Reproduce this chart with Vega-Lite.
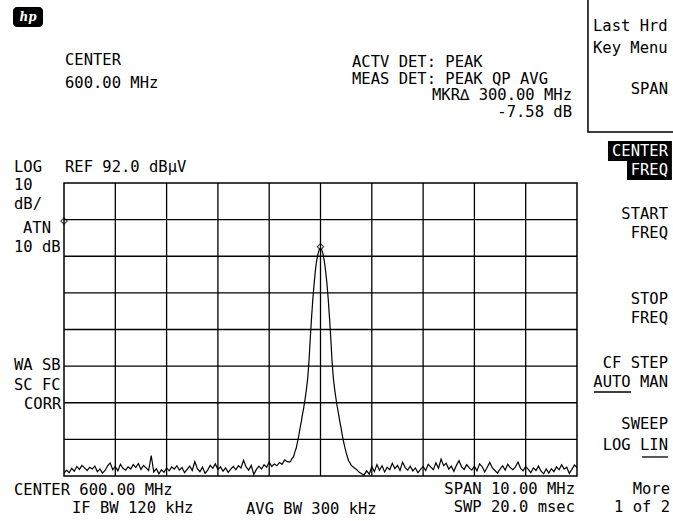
{
"$schema": "https://vega.github.io/schema/vega-lite/v6.json",
"width": 513,
"height": 293,
"autosize": {"type": "none"},
"padding": {"left": 64, "top": 183, "right": 96, "bottom": 45},
"background": "white",
"config": {"view": {"stroke": "#000", "strokeWidth": 1.5}, "font": "DejaVu Sans Mono"},
"datasets": {
"trace": [
{"f":595.00,"dbuv":12.8},{"f":595.05,"dbuv":13.6},{"f":595.10,"dbuv":12.9},{"f":595.15,"dbuv":14.1},{"f":595.20,"dbuv":13.3},{"f":595.25,"dbuv":14.6},{"f":595.30,"dbuv":13.8},{"f":595.35,"dbuv":14.9},{"f":595.40,"dbuv":14.2},{"f":595.45,"dbuv":13.5},
{"f":595.50,"dbuv":14.4},{"f":595.55,"dbuv":13.9},{"f":595.60,"dbuv":14.7},{"f":595.65,"dbuv":13.2},{"f":595.70,"dbuv":13.9},{"f":595.75,"dbuv":12.8},{"f":595.80,"dbuv":13.5},{"f":595.85,"dbuv":14.8},{"f":595.90,"dbuv":15.6},{"f":595.95,"dbuv":13.7},
{"f":596.00,"dbuv":14.6},{"f":596.05,"dbuv":13.4},{"f":596.10,"dbuv":15.2},{"f":596.15,"dbuv":14.1},{"f":596.20,"dbuv":13.6},{"f":596.25,"dbuv":14.5},{"f":596.30,"dbuv":13.9},{"f":596.35,"dbuv":15.1},{"f":596.40,"dbuv":14.3},{"f":596.45,"dbuv":15.4},
{"f":596.50,"dbuv":13.8},{"f":596.55,"dbuv":14.9},{"f":596.60,"dbuv":14.2},{"f":596.65,"dbuv":13.5},{"f":596.70,"dbuv":17.6},{"f":596.75,"dbuv":13.1},{"f":596.80,"dbuv":14.0},{"f":596.85,"dbuv":12.6},{"f":596.90,"dbuv":13.7},{"f":596.95,"dbuv":13.0},
{"f":597.00,"dbuv":14.2},{"f":597.05,"dbuv":13.4},{"f":597.10,"dbuv":14.5},{"f":597.15,"dbuv":13.9},{"f":597.20,"dbuv":14.8},{"f":597.25,"dbuv":13.6},{"f":597.30,"dbuv":14.3},{"f":597.35,"dbuv":12.9},{"f":597.40,"dbuv":13.8},{"f":597.45,"dbuv":14.7},
{"f":597.50,"dbuv":13.5},{"f":597.55,"dbuv":15.9},{"f":597.60,"dbuv":14.0},{"f":597.65,"dbuv":13.2},{"f":597.70,"dbuv":14.4},{"f":597.75,"dbuv":12.7},{"f":597.80,"dbuv":13.6},{"f":597.85,"dbuv":14.9},{"f":597.90,"dbuv":14.1},{"f":597.95,"dbuv":15.3},
{"f":598.00,"dbuv":13.8},{"f":598.05,"dbuv":14.5},{"f":598.10,"dbuv":13.3},{"f":598.15,"dbuv":14.2},{"f":598.20,"dbuv":13.0},{"f":598.25,"dbuv":13.9},{"f":598.30,"dbuv":14.6},{"f":598.35,"dbuv":13.7},{"f":598.40,"dbuv":14.8},{"f":598.45,"dbuv":14.2},
{"f":598.50,"dbuv":16.3},{"f":598.55,"dbuv":14.5},{"f":598.60,"dbuv":13.6},{"f":598.65,"dbuv":14.9},{"f":598.70,"dbuv":12.4},{"f":598.75,"dbuv":13.8},{"f":598.80,"dbuv":14.7},{"f":598.85,"dbuv":13.9},{"f":598.90,"dbuv":15.1},{"f":598.95,"dbuv":14.4},
{"f":599.00,"dbuv":15.8},{"f":599.05,"dbuv":14.6},{"f":599.10,"dbuv":15.3},{"f":599.15,"dbuv":14.8},{"f":599.20,"dbuv":15.7},{"f":599.25,"dbuv":15.2},{"f":599.30,"dbuv":16.4},{"f":599.35,"dbuv":15.9},
{"f":599.400,"dbuv":15.8},{"f":599.425,"dbuv":16.2},{"f":599.450,"dbuv":16.9},{"f":599.475,"dbuv":17.3},{"f":599.500,"dbuv":18.6},{"f":599.525,"dbuv":19.5},{"f":599.550,"dbuv":21.2},{"f":599.575,"dbuv":22.9},{"f":599.600,"dbuv":25.0},{"f":599.625,"dbuv":26.8},
{"f":599.650,"dbuv":28.9},{"f":599.675,"dbuv":30.8},{"f":599.700,"dbuv":33.1},{"f":599.725,"dbuv":35.6},{"f":599.750,"dbuv":38.6},{"f":599.775,"dbuv":43.2},{"f":599.800,"dbuv":49.4},{"f":599.825,"dbuv":55.1},{"f":599.850,"dbuv":60.2},{"f":599.875,"dbuv":64.4},
{"f":599.900,"dbuv":68.1},{"f":599.925,"dbuv":70.8},{"f":599.950,"dbuv":72.6},{"f":599.975,"dbuv":73.8},{"f":600.000,"dbuv":74.2},{"f":600.025,"dbuv":73.7},{"f":600.050,"dbuv":72.5},{"f":600.075,"dbuv":70.6},{"f":600.100,"dbuv":67.9},{"f":600.125,"dbuv":64.6},
{"f":600.150,"dbuv":60.4},{"f":600.175,"dbuv":55.3},{"f":600.200,"dbuv":49.7},{"f":600.225,"dbuv":43.4},{"f":600.250,"dbuv":38.8},{"f":600.275,"dbuv":35.8},{"f":600.300,"dbuv":33.3},{"f":600.325,"dbuv":31.0},{"f":600.350,"dbuv":29.1},{"f":600.375,"dbuv":27.0},
{"f":600.400,"dbuv":25.2},{"f":600.425,"dbuv":23.1},{"f":600.450,"dbuv":21.4},{"f":600.475,"dbuv":19.8},{"f":600.500,"dbuv":18.4},{"f":600.525,"dbuv":17.2},{"f":600.550,"dbuv":16.1},{"f":600.575,"dbuv":15.6},{"f":600.600,"dbuv":14.9},
{"f":600.65,"dbuv":14.3},{"f":600.70,"dbuv":13.8},{"f":600.75,"dbuv":13.1},{"f":600.80,"dbuv":12.6},{"f":600.85,"dbuv":12.3},{"f":600.90,"dbuv":13.4},{"f":600.95,"dbuv":12.5},{"f":601.00,"dbuv":14.6},{"f":601.05,"dbuv":13.2},{"f":601.10,"dbuv":15.1},
{"f":601.15,"dbuv":13.6},{"f":601.20,"dbuv":14.8},{"f":601.25,"dbuv":13.1},{"f":601.30,"dbuv":14.4},{"f":601.35,"dbuv":13.7},{"f":601.40,"dbuv":15.5},{"f":601.45,"dbuv":14.0},{"f":601.50,"dbuv":14.9},{"f":601.55,"dbuv":13.5},{"f":601.60,"dbuv":15.8},
{"f":601.65,"dbuv":14.3},{"f":601.70,"dbuv":13.6},{"f":601.75,"dbuv":14.7},{"f":601.80,"dbuv":13.4},{"f":601.85,"dbuv":14.2},{"f":601.90,"dbuv":12.9},{"f":601.95,"dbuv":13.8},{"f":602.00,"dbuv":14.6},{"f":602.05,"dbuv":13.5},{"f":602.10,"dbuv":15.2},
{"f":602.15,"dbuv":14.4},{"f":602.20,"dbuv":13.7},{"f":602.25,"dbuv":15.6},{"f":602.30,"dbuv":14.1},{"f":602.35,"dbuv":16.6},{"f":602.40,"dbuv":14.8},{"f":602.45,"dbuv":15.5},{"f":602.50,"dbuv":13.9},{"f":602.55,"dbuv":14.7},{"f":602.60,"dbuv":13.3},
{"f":602.65,"dbuv":14.9},{"f":602.70,"dbuv":16.2},{"f":602.75,"dbuv":14.5},{"f":602.80,"dbuv":13.8},{"f":602.85,"dbuv":15.1},{"f":602.90,"dbuv":14.2},{"f":602.95,"dbuv":13.6},{"f":603.00,"dbuv":14.7},{"f":603.05,"dbuv":13.4},{"f":603.10,"dbuv":15.3},
{"f":603.15,"dbuv":14.6},{"f":603.20,"dbuv":13.1},{"f":603.25,"dbuv":14.4},{"f":603.30,"dbuv":15.7},{"f":603.35,"dbuv":14.2},{"f":603.40,"dbuv":13.5},{"f":603.45,"dbuv":12.8},{"f":603.50,"dbuv":13.9},{"f":603.55,"dbuv":14.8},{"f":603.60,"dbuv":13.6},
{"f":603.65,"dbuv":15.2},{"f":603.70,"dbuv":14.3},{"f":603.75,"dbuv":13.7},{"f":603.80,"dbuv":14.5},{"f":603.85,"dbuv":15.8},{"f":603.90,"dbuv":14.1},{"f":603.95,"dbuv":13.4},{"f":604.00,"dbuv":14.6},{"f":604.05,"dbuv":13.8},{"f":604.10,"dbuv":12.9},
{"f":604.15,"dbuv":14.2},{"f":604.20,"dbuv":13.5},{"f":604.25,"dbuv":14.7},{"f":604.30,"dbuv":13.3},{"f":604.35,"dbuv":12.6},{"f":604.40,"dbuv":13.9},{"f":604.45,"dbuv":12.8},{"f":604.50,"dbuv":14.0},{"f":604.55,"dbuv":13.2},{"f":604.60,"dbuv":14.5},
{"f":604.65,"dbuv":13.7},{"f":604.70,"dbuv":15.1},{"f":604.75,"dbuv":13.9},{"f":604.80,"dbuv":14.4},{"f":604.85,"dbuv":12.7},{"f":604.90,"dbuv":13.8},{"f":604.95,"dbuv":15.0},{"f":605.00,"dbuv":14.3}
],
"vgrid": [{"f":596},{"f":597},{"f":598},{"f":599},{"f":600},{"f":601},{"f":602},{"f":603},{"f":604}],
"hgrid": [{"dbuv":22},{"dbuv":32},{"dbuv":42},{"dbuv":52},{"dbuv":62},{"dbuv":72},{"dbuv":82}],
"markers": [{"f":600.0,"dbuv":74.6},{"f":595.0,"dbuv":81.6}],
"one": [{}]
},
"layer": [
{"data":{"name":"vgrid"},"mark":{"type":"rule","color":"#000","strokeWidth":1.3},
 "encoding":{"x":{"field":"f","type":"quantitative","scale":{"domain":[595,605],"nice":false,"zero":false},"axis":null}}},
{"data":{"name":"hgrid"},"mark":{"type":"rule","color":"#000","strokeWidth":1.3},
 "encoding":{"y":{"field":"dbuv","type":"quantitative","scale":{"domain":[12,92],"nice":false,"zero":false},"axis":null}}},
{"data":{"name":"trace"},"mark":{"type":"line","color":"#000","strokeWidth":1.2,"clip":true},
 "encoding":{
  "x":{"field":"f","type":"quantitative"},
  "y":{"field":"dbuv","type":"quantitative"}
 }},
{"data":{"name":"markers"},"mark":{"type":"point","shape":"diamond","size":40,"filled":false,"stroke":"#000","strokeWidth":1.2,"clip":false},
 "encoding":{"x":{"field":"f","type":"quantitative"},"y":{"field":"dbuv","type":"quantitative"}}},
{"data":{"name":"one"},"mark":{"type":"rect","fill":"#000","cornerRadius":4,"clip":false},
 "encoding":{"x":{"datum":594.006},"x2":{"datum":594.591},"y":{"datum":140.05},"y2":{"datum":134.59}}},
{"data":{"name":"one"},"mark":{"type":"text","align":"center","baseline":"middle","fontSize":12,"font":"DejaVu Serif","fontStyle":"italic","fontWeight":"bold","color":"#fff","clip":false},
 "encoding":{"x":{"datum":594.298},"y":{"datum":137.32},"text":{"value":"hp"}}},
{"data":{"name":"one"},"mark":{"type":"rect","fill":null,"fillOpacity":0,"stroke":"#000","strokeWidth":1.5,"clip":false},
 "encoding":{"x":{"datum":605.214},"x2":{"datum":607.3},"y":{"datum":143.3},"y2":{"datum":105.92}}},
{"data":{"name":"one"},"mark":{"type":"rect","fill":"#000","clip":false},
 "encoding":{"x":{"datum":605.604},"x2":{"datum":606.85},"y":{"datum":103.47},"y2":{"datum":98.01}}},
{"data":{"name":"one"},"mark":{"type":"rect","fill":"#000","clip":false},
 "encoding":{"x":{"datum":605.975},"x2":{"datum":606.85},"y":{"datum":98.01},"y2":{"datum":92.82}}},
{"data":{"name":"one"},"mark":{"type":"rule","color":"#000","strokeWidth":1.3,"clip":false},
 "encoding":{"x":{"datum":605.331},"x2":{"datum":606.053},"y":{"datum":34.94}}},
{"data":{"name":"one"},"mark":{"type":"rule","color":"#000","strokeWidth":1.3,"clip":false},
 "encoding":{"x":{"datum":606.267},"x2":{"datum":606.774},"y":{"datum":17.19}}},
{"data":{"name":"one"},"mark":{"type":"text","align":"left","baseline":"top","fontSize":15.5,"lineHeight":23,"clip":false},
 "encoding":{"x":{"datum":595.02},"y":{"datum":127.5},"text":{"value":["CENTER","600.00 MHz"]}}},
{"data":{"name":"one"},"mark":{"type":"text","align":"left","baseline":"top","fontSize":15.5,"lineHeight":17,"clip":false},
 "encoding":{"x":{"datum":600.614},"y":{"datum":126.95},"text":{"value":["ACTV DET: PEAK","MEAS DET: PEAK QP AVG"]}}},
{"data":{"name":"one"},"mark":{"type":"text","align":"right","baseline":"top","fontSize":15.5,"lineHeight":17,"clip":false},
 "encoding":{"x":{"datum":604.903},"y":{"datum":117.94},"text":{"value":["MKR∆ 300.00 MHz","-7.58 dB"]}}},
{"data":{"name":"one"},"mark":{"type":"text","align":"left","baseline":"top","fontSize":15.5,"lineHeight":22,"clip":false},
 "encoding":{"x":{"datum":605.312},"y":{"datum":136.78},"text":{"value":["Last Hrd","Key Menu"]}}},
{"data":{"name":"one"},"mark":{"type":"text","align":"right","baseline":"top","fontSize":15.5,"clip":false},
 "encoding":{"x":{"datum":606.774},"y":{"datum":119.58},"text":{"value":"SPAN"}}},
{"data":{"name":"one"},"mark":{"type":"text","align":"right","baseline":"top","fontSize":15.5,"lineHeight":19,"color":"#fff","clip":false},
 "encoding":{"x":{"datum":606.774},"y":{"datum":102.65},"text":{"value":["CENTER","FREQ"]}}},
{"data":{"name":"one"},"mark":{"type":"text","align":"right","baseline":"top","fontSize":15.5,"lineHeight":19,"clip":false},
 "encoding":{"x":{"datum":606.774},"y":{"datum":85.45},"text":{"value":["START","FREQ"]}}},
{"data":{"name":"one"},"mark":{"type":"text","align":"right","baseline":"top","fontSize":15.5,"lineHeight":19,"clip":false},
 "encoding":{"x":{"datum":606.774},"y":{"datum":62.24},"text":{"value":["STOP","FREQ"]}}},
{"data":{"name":"one"},"mark":{"type":"text","align":"right","baseline":"top","fontSize":15.5,"lineHeight":19,"clip":false},
 "encoding":{"x":{"datum":606.774},"y":{"datum":44.77},"text":{"value":["CF STEP","AUTO MAN"]}}},
{"data":{"name":"one"},"mark":{"type":"text","align":"right","baseline":"top","fontSize":15.5,"lineHeight":21,"clip":false},
 "encoding":{"x":{"datum":606.774},"y":{"datum":28.11},"text":{"value":["SWEEP","LOG LIN"]}}},
{"data":{"name":"one"},"mark":{"type":"text","align":"right","baseline":"top","fontSize":15.5,"lineHeight":18,"clip":false},
 "encoding":{"x":{"datum":606.813},"y":{"datum":10.36},"text":{"value":["More","1 of 2"]}}},
{"data":{"name":"one"},"mark":{"type":"text","align":"left","baseline":"top","fontSize":15.5,"lineHeight":18.5,"clip":false},
 "encoding":{"x":{"datum":594.025},"y":{"datum":98.28},"text":{"value":["LOG","10","dB/"]}}},
{"data":{"name":"one"},"mark":{"type":"text","align":"left","baseline":"top","fontSize":15.5,"clip":false},
 "encoding":{"x":{"datum":594.201},"y":{"datum":81.62},"text":{"value":"ATN"}}},
{"data":{"name":"one"},"mark":{"type":"text","align":"left","baseline":"top","fontSize":15.5,"clip":false},
 "encoding":{"x":{"datum":594.025},"y":{"datum":76.44},"text":{"value":"10 dB"}}},
{"data":{"name":"one"},"mark":{"type":"text","align":"left","baseline":"top","fontSize":15.5,"clip":false},
 "encoding":{"x":{"datum":595.02},"y":{"datum":98.28},"text":{"value":"REF 92.0 dBµV"}}},
{"data":{"name":"one"},"mark":{"type":"text","align":"left","baseline":"top","fontSize":15.5,"lineHeight":20,"clip":false},
 "encoding":{"x":{"datum":594.025},"y":{"datum":44.22},"text":{"value":["WA SB","SC FC"]}}},
{"data":{"name":"one"},"mark":{"type":"text","align":"left","baseline":"top","fontSize":15.5,"clip":false},
 "encoding":{"x":{"datum":594.22},"y":{"datum":33.57},"text":{"value":"CORR"}}},
{"data":{"name":"one"},"mark":{"type":"text","align":"left","baseline":"top","fontSize":15.5,"clip":false},
 "encoding":{"x":{"datum":594.025},"y":{"datum":10.09},"text":{"value":"CENTER 600.00 MHz"}}},
{"data":{"name":"one"},"mark":{"type":"text","align":"left","baseline":"top","fontSize":15.5,"clip":false},
 "encoding":{"x":{"datum":595.156},"y":{"datum":5.17},"text":{"value":"IF BW 120 kHz"}}},
{"data":{"name":"one"},"mark":{"type":"text","align":"left","baseline":"top","fontSize":15.5,"clip":false},
 "encoding":{"x":{"datum":598.548},"y":{"datum":4.90},"text":{"value":"AVG BW 300 kHz"}}},
{"data":{"name":"one"},"mark":{"type":"text","align":"right","baseline":"top","fontSize":15.5,"lineHeight":18,"clip":false},
 "encoding":{"x":{"datum":604.961},"y":{"datum":10.36},"text":{"value":["SPAN 10.00 MHz","SWP 20.0 msec"]}}}
]
}
